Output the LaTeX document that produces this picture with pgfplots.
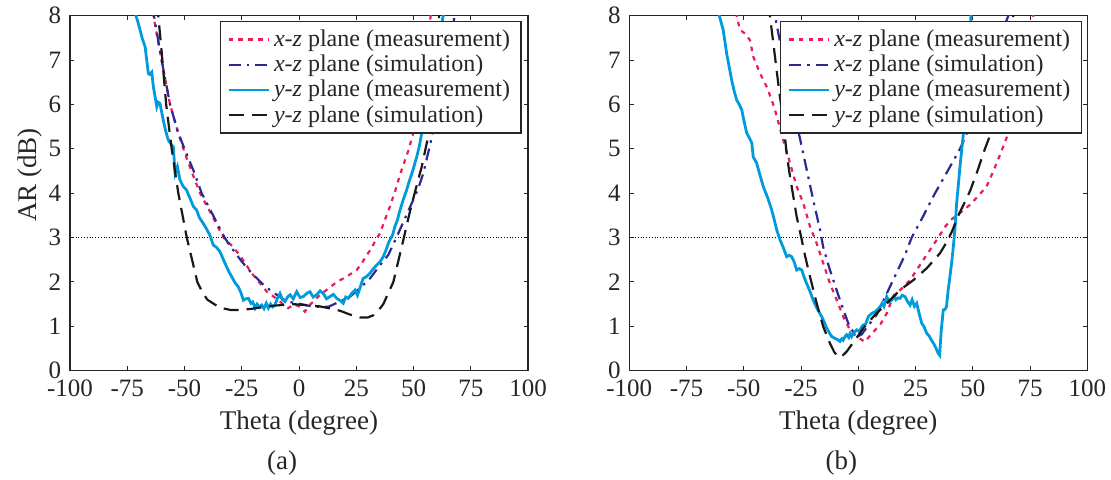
\documentclass[border=0pt]{standalone}
\usepackage{fontspec}
\setmainfont{Liberation Serif}
\usepackage{pgfplots}
\pgfplotsset{compat=1.18}
\definecolor{cred}{RGB}{234,28,84}
\definecolor{cnavy}{RGB}{42,42,148}
\definecolor{cblue}{RGB}{0,155,220}
\definecolor{cblack}{RGB}{25,25,25}
\pgfplotsset{
  myax/.style={
    scale only axis, width=229pt, height=177.5pt,
    xmin=-100, xmax=100, ymin=0, ymax=8,
    xtick={-100,-75,-50,-25,0,25,50,75,100},
    xticklabels={-100,-75,-50,-25,0,25,50,75,100},
    ytick={0,1,2,3,4,5,6,7,8},
    yticklabels={0,1,2,3,4,5,6,7,8},
    tick align=inside, major tick length=2.2pt,
    axis line style={line width=0.6pt, black!85},
    every tick/.style={black!85, line width=0.5pt},
    ticklabel style={font=\fontsize{12.5}{14}\selectfont, text=black!85},
    xticklabel style={inner sep=0pt, yshift=-4.6pt},
    yticklabel style={inner sep=0pt, xshift=-4.2pt},
    label style={font=\fontsize{13.5}{15}\selectfont, text=black!85},
    clip mode=individual,
    legend cell align=left,
    legend style={draw=black!85, line width=0.6pt, fill=white,
      font=\fontsize{12}{13}\selectfont, text=black!85,
      inner xsep=3.5pt, inner ysep=2pt, row sep=-1.2pt,
      nodes={inner ysep=2pt}},
    legend image code/.code={\draw[##1] (0pt,0pt) -- (20pt,0pt);},
  },
  xzm/.style={cred, line width=1.1pt, dash pattern=on 2.3pt off 2.6pt},
  xzs/.style={cnavy, line width=1.1pt, dash pattern=on 6pt off 3pt on 1.3pt off 3pt},
  yzm/.style={cblue, line width=1.4pt},
  yzs/.style={cblack, line width=1.1pt, dash pattern=on 7.5pt off 4pt},
}
\begin{document}
\begin{tikzpicture}
% ---------------- (a) ----------------
\begin{axis}[myax, at={(0pt,0pt)}, anchor=south west,
  xlabel={Theta (degree)}, ylabel={AR (dB)},
  xlabel style={at={(rel axis cs:0.5,-0.1465)}, anchor=center},
  ylabel style={at={(rel axis cs:-0.0873,0.551)}, anchor=center, rotate=0},
  legend style={at={(rel axis cs:0.986,0.985)}, anchor=north east}]
\addplot[forget plot, black, line width=0.4pt, densely dotted] coordinates {(-100,3) (100,3)};
\addplot[xzm] coordinates {
(-64,8.3) (-63.6,8.0) (-60,7.0) (-56.3,6.0) (-53,5.4) (-50.5,5.0) (-47,4.5) (-43.2,4.0) (-38,3.5) (-33,3.0) (-29,2.8) (-25.8,2.6) (-20.7,2.2) (-17,1.97) (-14,1.78) (-10,1.63) (-7,1.5) (-4.7,1.41) (-2,1.5) (0,1.45) (2.6,1.33) (4,1.45) (6.3,1.56) (9.2,1.71) (12,1.82) (16.5,2.0) (20.8,2.12) (25.2,2.27) (27.4,2.42) (29.5,2.6) (31.7,2.76) (33.2,2.92) (35.4,3.1) (37.5,3.4) (39.7,3.7) (42,4.05) (44,4.4) (46,4.7) (48,5.0) (49.9,5.36) (52,5.9) (54,6.6) (56,7.4) (57.5,8.0) (58,8.3)};
\addlegendentry{\textit{x}-\textit{z} plane (measurement)}
\addplot[xzs] coordinates {
(-64,8.2) (-60,7.0) (-56.3,6.0) (-53,5.4) (-50,5.0) (-46,4.5) (-42.5,4.0) (-37.5,3.5) (-33,3.05) (-30.9,2.87) (-25,2.46) (-20.7,2.2) (-14.8,1.9) (-9.7,1.71) (-5.4,1.56) (-1,1.52) (6.3,1.44) (12.8,1.44) (17.9,1.56) (22.3,1.67) (26.6,1.86) (31,2.08) (35.4,2.38) (39,2.61) (42.7,3.02) (46,3.4) (49.2,3.77) (52,4.1) (54.3,4.45) (57.9,5.24) (61,6.1) (64.5,7.0) (68,8.0) (69,8.3)};
\addlegendentry{\textit{x}-\textit{z} plane (simulation)}
\addplot[yzm] coordinates {
(-71.5,8.2) (-71.2,8.0) (-70.3,7.85) (-69.4,7.68) (-68.5,7.5) (-67.2,7.3) (-66.5,7.0) (-65.8,6.7) (-65.2,6.68) (-64.3,6.73) (-63.6,6.4) (-62.1,5.95) (-61.5,6.05) (-60.7,6.02) (-59.3,5.65) (-58.2,5.4) (-57.1,5.2) (-55.8,5.1) (-54.9,5.05) (-54.1,4.45) (-53.1,4.6) (-52,4.3) (-50.5,4.15) (-49.1,4.07) (-47.3,3.85) (-46.1,3.7) (-44.7,3.62) (-43.5,3.45) (-41.8,3.32) (-40.2,3.18) (-38.9,3.05) (-37.4,2.83) (-36,2.78) (-34.5,2.68) (-33.4,2.55) (-32.3,2.42) (-30.8,2.25) (-29.4,2.12) (-27.9,1.98) (-26.5,1.89) (-25.3,1.75) (-24.3,1.59) (-23.2,1.62) (-22.1,1.63) (-21,1.52) (-20.2,1.55) (-19.2,1.41) (-18.3,1.5) (-17.3,1.44) (-16.3,1.48) (-15.3,1.4) (-14.3,1.52) (-13.4,1.41) (-12.4,1.5) (-11.5,1.44) (-10.5,1.48) (-9.5,1.62) (-8.3,1.74) (-7.2,1.6) (-6.1,1.56) (-5,1.66) (-3.9,1.71) (-2.5,1.62) (-1,1.78) (0.5,1.65) (1.9,1.67) (3.3,1.74) (4.8,1.78) (6.2,1.66) (7.7,1.71) (9.2,1.8) (10.6,1.74) (12,1.62) (13.5,1.67) (15,1.72) (16.5,1.63) (18,1.58) (19.3,1.52) (20.4,1.66) (21.5,1.63) (23,1.74) (24.5,1.82) (25.5,1.7) (26.6,1.86) (28,2.08) (29.5,2.12) (31,2.2) (32.5,2.3) (33.9,2.38) (35.3,2.45) (36.8,2.57) (38,2.72) (39,2.87) (39.7,2.95) (40.8,3.05) (41.9,3.25) (43,3.4) (44,3.6) (45.5,3.85) (47,4.07) (48,4.25) (49,4.4) (50.2,4.6) (51.4,4.82) (52.5,5.05) (53.6,5.36) (55,5.7) (56,6.1) (57.2,6.5) (58.5,6.9) (60,7.3) (61,7.5) (62.2,7.8) (63,8.0) (63.5,8.3)};
\addlegendentry{\textit{y}-\textit{z} plane (measurement)}
\addplot[yzs] coordinates {
(-62,8.3) (-60,7.2) (-58,6.0) (-55.6,5.0) (-52.7,4.0) (-49,3.0) (-44.4,2.0) (-42,1.75) (-40,1.6) (-37,1.5) (-34.5,1.42) (-30,1.37) (-25,1.37) (-20,1.4) (-15,1.44) (-10,1.47) (-2.5,1.5) (3,1.48) (9,1.45) (14,1.4) (18,1.35) (22,1.27) (26.6,1.2) (30,1.2) (32.5,1.25) (35,1.38) (36.8,1.5) (39,1.75) (41.2,2.0) (43.5,2.5) (45.8,3.0) (48.5,3.6) (51,4.1) (53.6,4.6) (56.5,5.3) (58.5,6.3) (60,7.2) (61.5,8.2)};
\addlegendentry{\textit{y}-\textit{z} plane (simulation)}
\node[font=\fontsize{13.5}{15}\selectfont, text=black!85] at (rel axis cs:0.463,-0.26) {(a)};
\end{axis}
% ---------------- (b) ----------------
\begin{axis}[myax, at={(279.65pt,0pt)}, anchor=south west,
  xlabel={Theta (degree)},
  xlabel style={at={(rel axis cs:0.5,-0.1465)}, anchor=center},
  legend style={at={(rel axis cs:0.988,0.985)}, anchor=north east}]
\addplot[forget plot, black, line width=0.4pt, densely dotted] coordinates {(-100,3) (100,3)};
\addplot[xzm] coordinates {
(-53.5,8.3) (-53.1,8.0) (-51.7,7.68) (-49.5,7.6) (-47.3,7.45) (-45.9,7.08) (-42.9,6.7) (-40,6.4) (-37.8,6.1) (-36.4,5.88) (-32.8,5.2) (-30.6,4.82) (-26.9,4.15) (-24,3.77) (-21.1,3.25) (-18.2,2.87) (-15.3,2.42) (-12.4,1.97) (-9.4,1.59) (-6.6,1.22) (-3.6,0.92) (-0.7,0.77) (2.9,0.65) (5.9,0.84) (9.5,1.03) (12.4,1.29) (14.6,1.59) (16.8,1.74) (19.7,1.89) (22.6,2.04) (25.5,2.27) (28.4,2.5) (31.3,2.72) (34.9,3.0) (38,3.25) (40.5,3.4) (42.9,3.5) (46,3.62) (49,3.75) (51.7,3.9) (56,4.15) (59,4.5) (63.3,5.05) (65.5,5.35) (70,6.3) (73.5,7.2) (76.4,8.0) (77,8.2)};
\addlegendentry{\textit{x}-\textit{z} plane (measurement)}
\addplot[xzs] coordinates {
(-37,8.3) (-36.4,8.0) (-33,7.1) (-30,6.3) (-27.5,5.7) (-25.5,5.24) (-22.5,4.52) (-19.7,3.85) (-16.7,3.17) (-15.3,2.78) (-12.4,2.27) (-8,1.59) (-4.4,1.07) (-2,0.85) (0,0.78) (1.5,0.82) (2.9,0.92) (8,1.26) (13.8,1.89) (20.4,2.61) (23.3,3.0) (28,3.45) (33.5,4.0) (39,4.5) (44.4,5.0) (47,5.3) (52,6.0) (57,6.8) (61,7.4) (65.5,8.0) (66.5,8.2)};
\addlegendentry{\textit{x}-\textit{z} plane (simulation)}
\addplot[yzm] coordinates {
(-61,8.2) (-60.7,8.0) (-59,7.68) (-58.2,7.4) (-57.5,7.15) (-56.4,6.85) (-55.3,6.55) (-54.2,6.3) (-53.1,6.1) (-52,6.0) (-50.9,5.88) (-49.8,5.6) (-48.7,5.35) (-47.6,5.25) (-46.5,5.13) (-45.9,4.82) (-44.4,4.68) (-43,4.42) (-41.5,4.15) (-39.6,3.9) (-37.8,3.62) (-36.7,3.4) (-35.6,3.17) (-34.2,2.95) (-32.8,2.78) (-31.3,2.57) (-30.2,2.6) (-29.1,2.57) (-28,2.45) (-26.9,2.27) (-25.8,2.3) (-24.7,2.27) (-23.6,2.1) (-22.6,1.97) (-21.2,1.8) (-19.7,1.59) (-18.2,1.42) (-16.7,1.28) (-16,1.22) (-14.9,1.1) (-13.8,0.96) (-12.6,0.85) (-11.6,0.77) (-10.2,0.73) (-9,0.7) (-8,0.66) (-7.2,0.72) (-6.6,0.69) (-5.8,0.77) (-5.1,0.81) (-4.2,0.75) (-3.6,0.84) (-2.9,0.77) (-1.8,0.86) (-0.7,0.92) (0.4,0.88) (1.5,0.99) (2.2,1.03) (3.2,1.05) (4.4,1.22) (5.8,1.29) (7.3,1.33) (8.4,1.38) (9.5,1.44) (10.4,1.52) (11.2,1.45) (12.4,1.67) (13.5,1.55) (14.6,1.59) (15.5,1.68) (16.4,1.6) (17.3,1.64) (18.2,1.63) (19.2,1.7) (20.4,1.67) (21.5,1.56) (22.6,1.48) (23.5,1.6) (24.5,1.45) (25.5,1.52) (26.5,1.3) (27.7,1.07) (28.8,0.98) (29.9,0.84) (31,0.78) (31.8,0.7) (32.8,0.62) (33.8,0.52) (34.9,0.39) (35.5,0.35) (36.2,0.9) (37.1,1.37) (37.8,1.38) (38.5,1.44) (39.2,1.8) (40,2.12) (40.8,2.45) (41.5,2.8) (42.2,3.2) (42.9,3.75) (43.7,4.2) (44.4,4.6) (45.2,5.0) (45.9,5.35) (47,6.2) (48,7.0) (49.2,8.0) (49.5,8.3)};
\addlegendentry{\textit{y}-\textit{z} plane (measurement)}
\addplot[yzs] coordinates {
(-39,8.3) (-38.6,8.0) (-37.1,7.38) (-35.5,6.7) (-34.3,6.2) (-33.4,5.88) (-32.3,5.4) (-31.3,4.9) (-30.2,4.5) (-29.1,4.15) (-26.9,3.47) (-24.7,2.95) (-23.3,2.6) (-21.1,2.12) (-18.2,1.52) (-15.3,0.99) (-12.4,0.62) (-10.5,0.42) (-9.4,0.35) (-8.3,0.3) (-7.3,0.32) (-5.1,0.43) (-3.3,0.56) (-1.4,0.69) (2.2,0.96) (6.6,1.22) (12.4,1.52) (18.2,1.82) (24,2.04) (29.9,2.31) (35.7,2.65) (38.6,2.9) (41,3.15) (43.7,3.5) (46.5,3.8) (48.8,4.05) (52,4.5) (55.3,5.0) (57.5,5.3) (60,5.9) (63,6.7) (65.5,7.4) (67.7,8.0) (68.5,8.3)};
\addlegendentry{\textit{y}-\textit{z} plane (simulation)}
\node[font=\fontsize{13.5}{15}\selectfont, text=black!85] at (rel axis cs:0.463,-0.26) {(b)};
\end{axis}
\pgfresetboundingbox
\path[use as bounding box] (-35pt,-54.15pt) rectangle (520.5pt,185.35pt);
\end{tikzpicture}
\end{document}
